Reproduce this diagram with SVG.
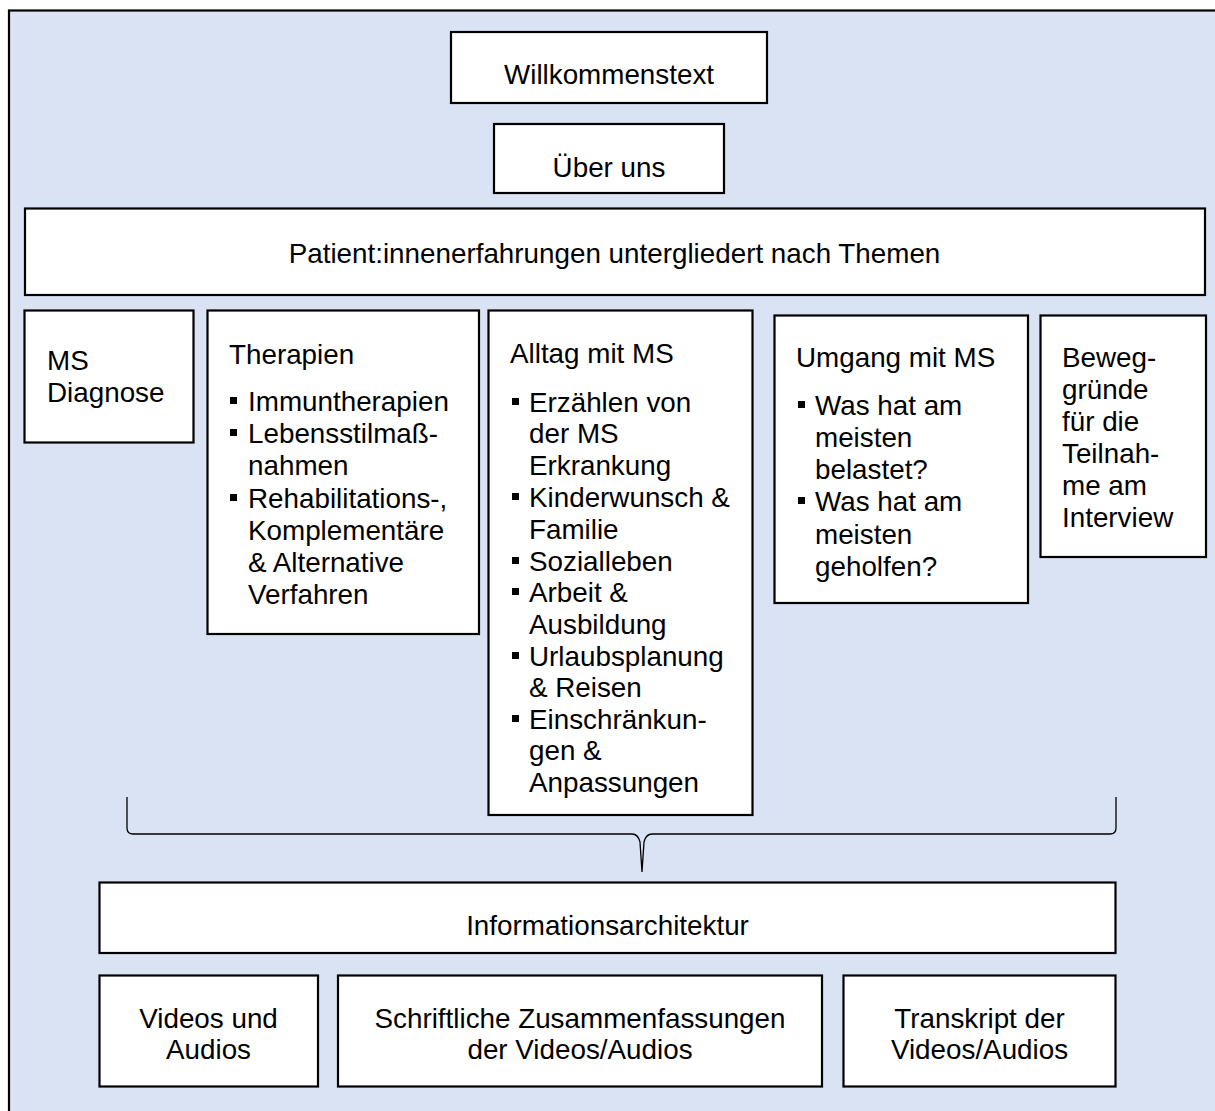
<svg xmlns="http://www.w3.org/2000/svg" width="1215" height="1111" viewBox="0 0 1215 1111">
<style>
.box{fill:#ffffff;stroke:#000000;stroke-width:2.2}
.t{font-family:"Liberation Sans",Arial,sans-serif;font-size:27.8px;fill:#000000}
.c{text-anchor:middle}
.b{fill:#000000}
.brace{fill:none;stroke:#000000;stroke-width:1.3}
</style>
<rect x="9" y="10.5" width="1220" height="1120" fill="#dae3f3" stroke="#000000" stroke-width="2.2"/>
<g id="willkommen">
<rect class="box" x="451" y="32" width="316" height="71"/>
<text class="t c" x="609" y="84">Willkommenstext</text>
</g>
<g id="ueberuns">
<rect class="box" x="494" y="124" width="230" height="69"/>
<text class="t c" x="609" y="177">Über uns</text>
</g>
<g id="patient">
<rect class="box" x="25" y="208.5" width="1180" height="86.5"/>
<text class="t c" x="614.5" y="263">Patient:innenerfahrungen untergliedert nach Themen</text>
</g>
<g id="diagnose">
<rect class="box" x="24.5" y="310.5" width="169" height="132"/>
<text class="t" x="47" y="370">MS</text>
<text class="t" x="47" y="402">Diagnose</text>
</g>
<g id="therapien">
<rect class="box" x="207.5" y="310.5" width="271.5" height="323.5"/>
<text class="t" x="229" y="364">Therapien</text>
<rect class="b" x="230" y="397" width="7" height="7"/>
<rect class="b" x="230" y="429" width="7" height="7"/>
<rect class="b" x="230" y="494" width="7" height="7"/>
<text class="t" x="248" y="411">Immuntherapien</text>
<text class="t" x="248" y="443">Lebensstilmaß-</text>
<text class="t" x="248" y="475">nahmen</text>
<text class="t" x="248" y="508">Rehabilitations-,</text>
<text class="t" x="248" y="540">Komplementäre</text>
<text class="t" x="248" y="572">&amp; Alternative</text>
<text class="t" x="248" y="604">Verfahren</text>
</g>
<g id="alltag">
<rect class="box" x="488.5" y="310.5" width="264" height="504.5"/>
<text class="t" x="510" y="363">Alltag mit MS</text>
<rect class="b" x="512" y="398" width="7" height="7"/>
<rect class="b" x="512" y="493" width="7" height="7"/>
<rect class="b" x="512" y="557" width="7" height="7"/>
<rect class="b" x="512" y="588" width="7" height="7"/>
<rect class="b" x="512" y="652" width="7" height="7"/>
<rect class="b" x="512" y="715" width="7" height="7"/>
<text class="t" x="529" y="412">Erzählen von</text>
<text class="t" x="529" y="443">der MS</text>
<text class="t" x="529" y="475">Erkrankung</text>
<text class="t" x="529" y="507">Kinderwunsch &amp;</text>
<text class="t" x="529" y="539">Familie</text>
<text class="t" x="529" y="571">Sozialleben</text>
<text class="t" x="529" y="602">Arbeit &amp;</text>
<text class="t" x="529" y="634">Ausbildung</text>
<text class="t" x="529" y="666">Urlaubsplanung</text>
<text class="t" x="529" y="697">&amp; Reisen</text>
<text class="t" x="529" y="729">Einschränkun-</text>
<text class="t" x="529" y="760">gen &amp;</text>
<text class="t" x="529" y="792">Anpassungen</text>
</g>
<g id="umgang">
<rect class="box" x="774.5" y="315.5" width="253.5" height="287.5"/>
<text class="t" x="796" y="367">Umgang mit MS</text>
<rect class="b" x="798" y="401" width="7" height="7"/>
<rect class="b" x="798" y="497" width="7" height="7"/>
<text class="t" x="815" y="415">Was hat am</text>
<text class="t" x="815" y="447">meisten</text>
<text class="t" x="815" y="479">belastet?</text>
<text class="t" x="815" y="511">Was hat am</text>
<text class="t" x="815" y="544">meisten</text>
<text class="t" x="815" y="576">geholfen?</text>
</g>
<g id="beweggruende">
<rect class="box" x="1040.5" y="315.5" width="165.5" height="241.5"/>
<text class="t" x="1062" y="367">Beweg-</text>
<text class="t" x="1062" y="399">gründe</text>
<text class="t" x="1062" y="431">für die</text>
<text class="t" x="1062" y="463">Teilnah-</text>
<text class="t" x="1062" y="495">me am</text>
<text class="t" x="1062" y="527">Interview</text>
</g>
<g id="connectors">
<path class="brace" d="M127,797 L127,828 Q127,834 133,834 L632,834 Q638,834 640,842 L642,872 L644,842 Q646,834 652,834 L1110,834 Q1116,834 1116,828 L1116,797"/>
</g>
<g id="informationsarchitektur">
<rect class="box" x="99.5" y="882.5" width="1016" height="70.5"/>
<text class="t c" x="607.5" y="935">Informationsarchitektur</text>
</g>
<g id="videos">
<rect class="box" x="99.5" y="975.5" width="218.5" height="111"/>
<text class="t c" x="208.5" y="1028">Videos und</text>
<text class="t c" x="208.5" y="1059">Audios</text>
</g>
<g id="zusammenfassungen">
<rect class="box" x="338" y="975.5" width="484" height="111"/>
<text class="t c" x="580" y="1028">Schriftliche Zusammenfassungen</text>
<text class="t c" x="580" y="1059">der Videos/Audios</text>
</g>
<g id="transkript">
<rect class="box" x="843.5" y="975.5" width="272" height="111"/>
<text class="t c" x="979.5" y="1028">Transkript der</text>
<text class="t c" x="979.5" y="1059">Videos/Audios</text>
</g>
</svg>
